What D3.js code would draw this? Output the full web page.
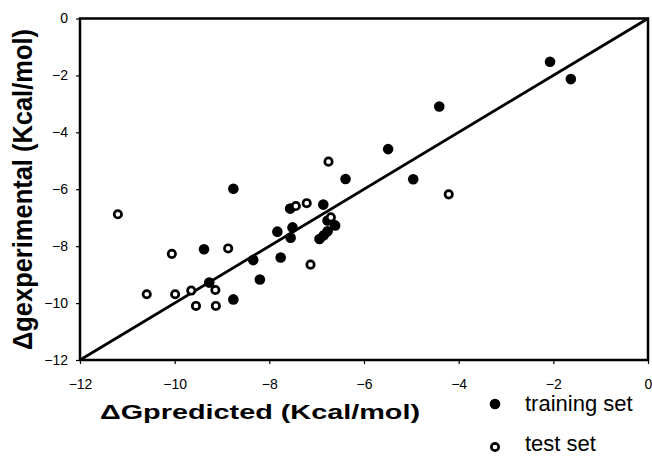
<!DOCTYPE html>
<html>
<head>
<meta charset="utf-8">
<script src="https://cdn.jsdelivr.net/npm/d3@7"></script>
<style>
  body { margin: 0; background: #fff; }
  svg text { font-family: Arial, "Liberation Sans", sans-serif; }
</style>
</head>
<body>
<div id="chart"></div>
<script>
// training set (filled) : predicted, experimental
var trainPred = [-2.07, -1.63, -4.41, -5.49, -4.96, -6.39, -8.76, -7.56, -6.86, -6.77, -6.61, -6.94, -6.85, -6.77, -7.83, -7.51, -7.55, -7.76, -8.34, -8.20, -9.38, -9.27, -8.76];
var trainExp  = [-1.52, -2.13, -3.09, -4.59, -5.65, -5.64, -5.98, -6.68, -6.54, -7.10, -7.27, -7.75, -7.62, -7.48, -7.49, -7.34, -7.70, -8.40, -8.49, -9.17, -8.11, -9.28, -9.87];

// test set (open)
var testPred = [-4.21, -6.75, -7.44, -7.21, -6.70, -7.13, -8.87, -10.06, -10.59, -9.99, -9.65, -9.14, -9.55, -9.13, -11.20];
var testExp  = [-6.18, -5.03, -6.59, -6.49, -6.99, -8.65, -8.08, -8.27, -9.69, -9.69, -9.56, -9.54, -10.10, -10.10, -6.88];

var ticks = [-12, -10, -8, -6, -4, -2, 0];
var legendLabels = ["training set", "test set"];

var margin = {top: 18.5, right: 4, bottom: 97, left: 80},
    width = 652 - margin.left - margin.right,
    height = 457 - margin.top - margin.bottom;

var svg = d3.select("#chart")
  .append("svg")
    .attr("width", 652)
    .attr("height", 457)
  .append("g")
    .attr("transform", "translate(" + margin.left + "," + margin.top + ")");

var x = d3.scaleLinear().domain([-12, 0]).range([0, width]);
var y = d3.scaleLinear().domain([-12, 0]).range([height, 0]);

// X axis
var xAxis = svg.append("g")
  .attr("transform", "translate(0," + height + ")")
  .call(d3.axisBottom(x).tickValues(ticks).tickSize(4).tickPadding(15));
xAxis.select(".domain").remove();
xAxis.selectAll("line").attr("stroke-width", 1.2);
xAxis.selectAll("text").style("font-size", "14px").attr("fill", "#000");

// Y axis
var yAxis = svg.append("g")
  .call(d3.axisLeft(y).tickValues(ticks).tickSize(4).tickPadding(8));
yAxis.select(".domain").remove();
yAxis.selectAll("line").attr("stroke-width", 1.2);
yAxis.selectAll("text").style("font-size", "14px").attr("fill", "#000");

// frame
svg.append("rect")
  .attr("x", 0).attr("y", 0)
  .attr("width", width).attr("height", height)
  .attr("fill", "none")
  .attr("stroke", "#000")
  .attr("stroke-width", 2.5);

// y = x line
svg.append("line")
  .attr("x1", x(-12)).attr("y1", y(-12))
  .attr("x2", x(0)).attr("y2", y(0))
  .attr("stroke", "#000")
  .attr("stroke-width", 2.8);

// training points
svg.selectAll(".train")
  .data(trainPred)
  .enter().append("circle")
    .attr("class", "train")
    .attr("cx", function(d) { return x(d); })
    .attr("cy", function(d, i) { return y(trainExp[i]); })
    .attr("r", 5.3)
    .attr("fill", "#000");

// test points
svg.selectAll(".test")
  .data(testPred)
  .enter().append("circle")
    .attr("class", "test")
    .attr("cx", function(d) { return x(d); })
    .attr("cy", function(d, i) { return y(testExp[i]); })
    .attr("r", 3.7)
    .attr("fill", "#fff")
    .attr("stroke", "#000")
    .attr("stroke-width", 2.7);

// X title
svg.append("text")
  .attr("x", 100 - margin.left)
  .attr("y", 419 - margin.top)
  .attr("textLength", 320)
  .attr("lengthAdjust", "spacingAndGlyphs")
  .style("font-size", "21px")
  .style("font-weight", "bold")
  .text("\u0394Gpredicted (Kcal/mol)");

// Y title
svg.append("text")
  .attr("transform", "translate(" + (32 - margin.left) + "," + (189.5 - margin.top) + ") rotate(-90)")
  .attr("text-anchor", "middle")
  .attr("textLength", 321)
  .attr("lengthAdjust", "spacingAndGlyphs")
  .style("font-size", "27px")
  .style("font-weight", "bold")
  .text("\u0394gexperimental (Kcal/mol)");

// legend
var legend = svg.append("g")
  .attr("transform", "translate(" + (495 - margin.left) + "," + (404 - margin.top) + ")");
legend.append("circle").attr("cx", 0).attr("cy", 0).attr("r", 5.3).attr("fill", "#000");
legend.append("circle").attr("cx", 0).attr("cy", 43).attr("r", 3.7)
  .attr("fill", "#fff").attr("stroke", "#000").attr("stroke-width", 2.7);
legend.selectAll(".lab")
  .data(legendLabels)
  .enter().append("text")
    .attr("class", "lab")
    .attr("x", 30)
    .attr("y", function(d, i) { return 7 + i * 40; })
    .style("font-size", "22px")
    .text(function(d) { return d; });
</script>
</body>
</html>
